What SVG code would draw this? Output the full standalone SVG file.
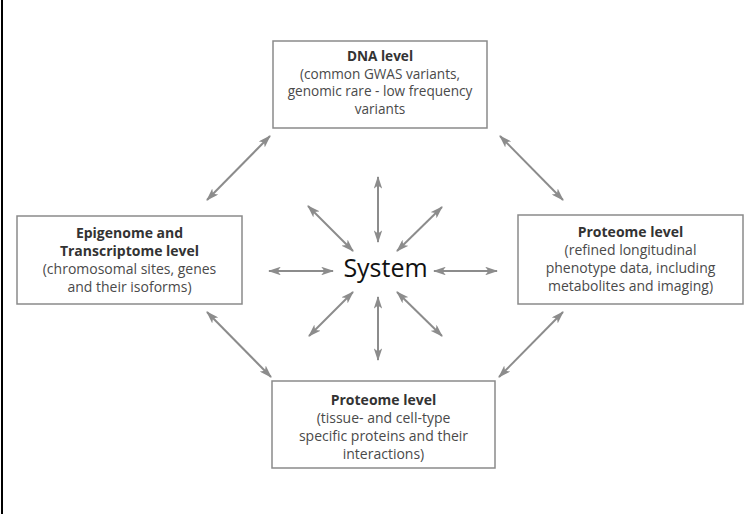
<svg xmlns="http://www.w3.org/2000/svg" width="750" height="514" viewBox="0 0 750 514">
<style>
.box{fill:#fff;stroke:#8a8a8a;stroke-width:1.5}
.t{font-family:"Open Sans","Liberation Sans",sans-serif;font-size:14px;text-anchor:middle;fill:#4a4a4a}
.s{font-size:13.6px}
.b{font-weight:bold;fill:#333}
.c{stroke:#8c8c8c;stroke-width:2;fill:none;marker-start:url(#ah);marker-end:url(#ah)}
</style>
<defs>
<marker id="ah" viewBox="0 0 12 8" refX="11" refY="4" markerWidth="6.5" markerHeight="4.3" orient="auto-start-reverse" markerUnits="strokeWidth">
<path d="M0,0 L12,4 L0,8 L3,4 Z" fill="#8c8c8c"/>
</marker>
</defs>
<rect width="750" height="514" fill="#fff"/>
<rect x="1" y="0" width="2" height="514" fill="#000"/>
<g id="dna">
<rect class="box" x="273" y="41" width="214" height="87"/>
<text class="t s b" x="380" y="61">DNA level</text>
<text class="t s" x="380" y="78.5">(common GWAS variants,</text>
<text class="t s" x="380" y="96">genomic rare - low frequency</text>
<text class="t s" x="380" y="113.5">variants</text>
</g>
<g id="epigenome">
<rect class="box" x="17" y="216" width="225" height="88"/>
<text class="t b" x="129.5" y="238">Epigenome and</text>
<text class="t b" x="129.5" y="256">Transcriptome level</text>
<text class="t" x="129.5" y="274">(chromosomal sites, genes</text>
<text class="t" x="129.5" y="292">and their isoforms)</text>
</g>
<g id="proteome-right">
<rect class="box" x="518" y="215" width="225" height="89"/>
<text class="t b" x="630.5" y="237">Proteome level</text>
<text class="t" x="630.5" y="255">(refined longitudinal</text>
<text class="t" x="630.5" y="273">phenotype data, including</text>
<text class="t" x="630.5" y="291">metabolites and imaging)</text>
</g>
<g id="proteome-bottom">
<rect class="box" x="272" y="381" width="223" height="87"/>
<text class="t b" x="383.5" y="405">Proteome level</text>
<text class="t" x="383.5" y="423">(tissue- and cell-type</text>
<text class="t" x="383.5" y="441">specific proteins and their</text>
<text class="t" x="383.5" y="459">interactions)</text>
</g>
<g id="system">
<text x="385.5" y="277" font-family="'Open Sans','DejaVu Sans',sans-serif" font-size="25" text-anchor="middle" fill="#111">System</text>
</g>
<g id="connectors">
<line class="c" x1="270" y1="136" x2="207" y2="200"/>
<line class="c" x1="500" y1="136" x2="563" y2="200"/>
<line class="c" x1="207" y1="312" x2="271" y2="377"/>
<line class="c" x1="563" y1="312" x2="499" y2="377"/>
<line class="c" x1="378" y1="177" x2="378" y2="242"/>
<line class="c" x1="378" y1="297" x2="378" y2="360"/>
<line class="c" x1="269" y1="271" x2="333" y2="271"/>
<line class="c" x1="434" y1="271" x2="497" y2="271"/>
<line class="c" x1="308" y1="206" x2="353" y2="251"/>
<line class="c" x1="442" y1="207" x2="397" y2="251"/>
<line class="c" x1="353" y1="292" x2="309" y2="336"/>
<line class="c" x1="397" y1="292" x2="442" y2="336"/>
</g>
</svg>
